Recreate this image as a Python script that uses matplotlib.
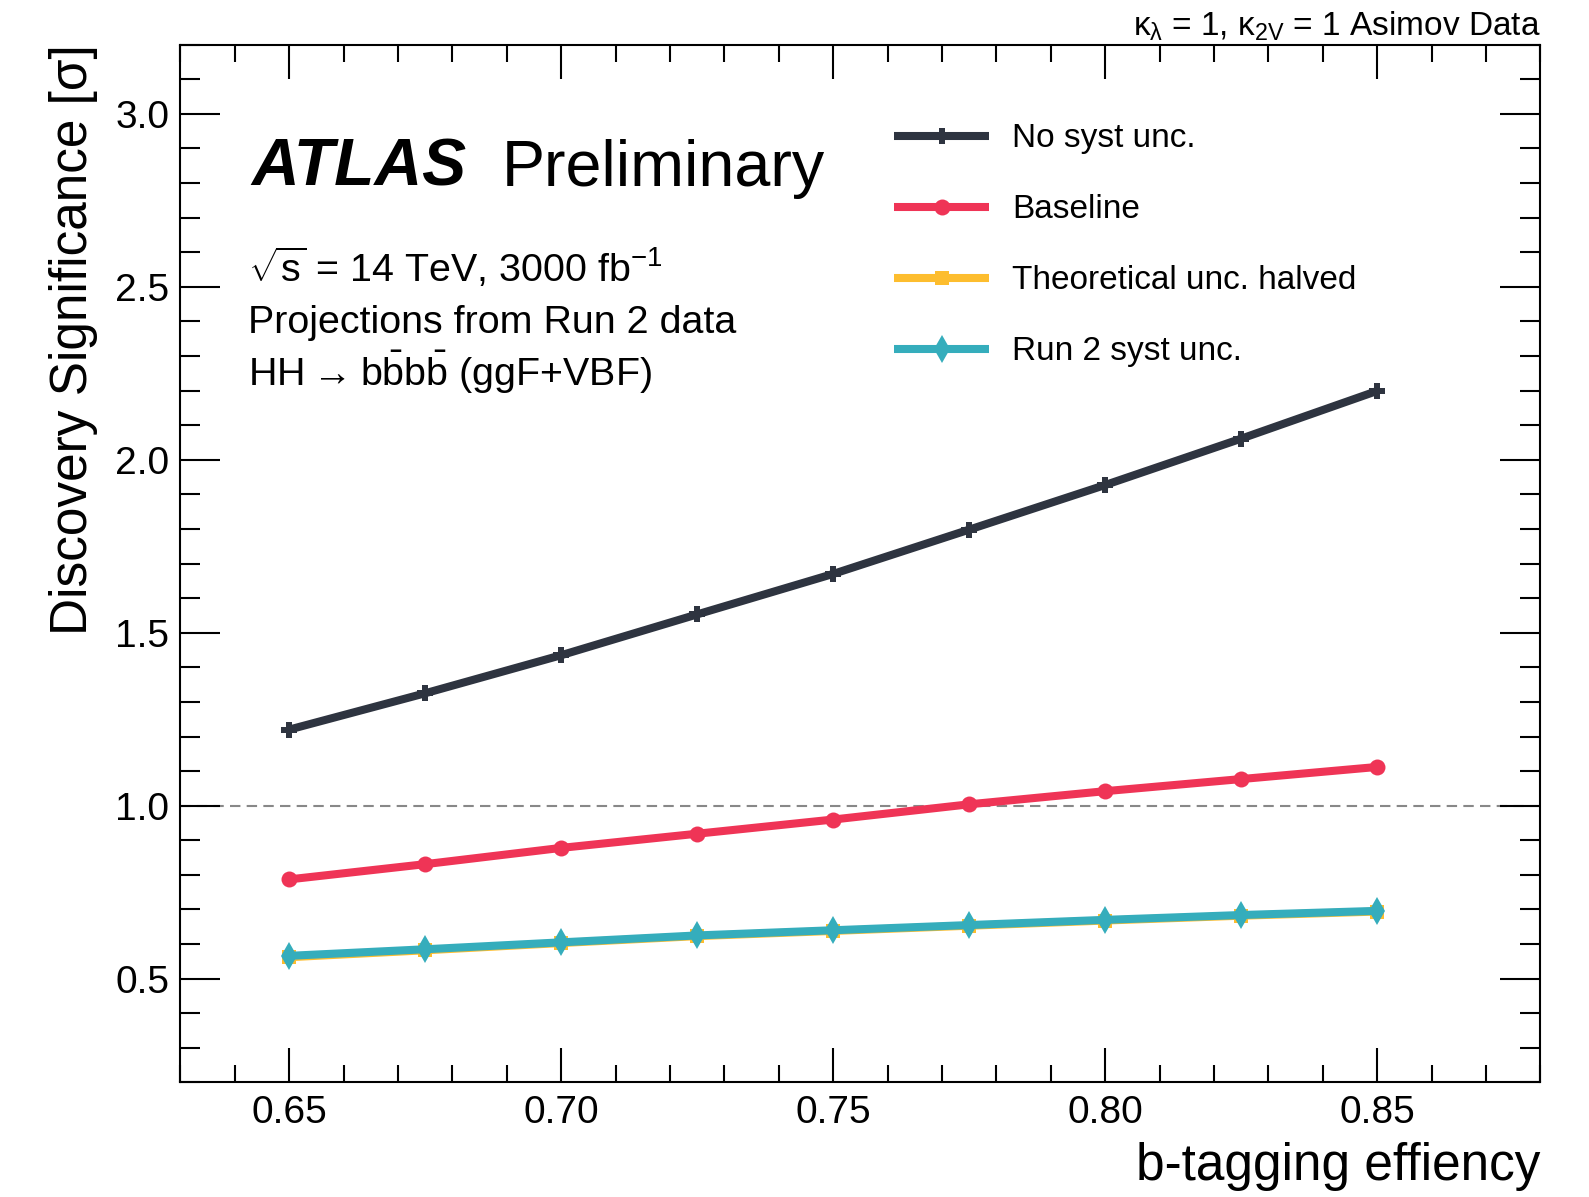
import matplotlib
matplotlib.use("Agg")
import matplotlib.pyplot as plt
from matplotlib.ticker import MultipleLocator, FormatStrFormatter

plt.rcParams['font.family'] = ['Liberation Sans', 'DejaVu Sans']
plt.rcParams['mathtext.fontset'] = 'custom'
plt.rcParams['mathtext.rm'] = 'Liberation Sans'
plt.rcParams['mathtext.it'] = 'Liberation Sans'
plt.rcParams['mathtext.bf'] = 'Liberation Sans:bold'

# ---- data ----
btag_eff = [0.65, 0.675, 0.70, 0.725, 0.75, 0.775, 0.80, 0.825, 0.85]
no_syst = [1.22, 1.325, 1.435, 1.553, 1.670, 1.798, 1.927, 2.061, 2.199]
baseline = [0.787, 0.831, 0.878, 0.919, 0.960, 1.004, 1.042, 1.077, 1.112]
theory_halved = [0.562, 0.582, 0.603, 0.623, 0.638, 0.653, 0.668, 0.682, 0.694]
run2_syst = [0.566, 0.585, 0.605, 0.625, 0.640, 0.655, 0.670, 0.684, 0.696]
series_labels = ["No syst unc.", "Baseline", "Theoretical unc. halved", "Run 2 syst unc."]

colors = ["#2e3440", "#ef3456", "#fdbd2e", "#35adbc"]
markers = ["P", "o", "s", "d"]
msizes = [12, 11.5, 10.5, 14]

fig = plt.figure(figsize=(15.89, 11.97), dpi=100)
ax = fig.add_axes([0.1135, 0.0957, 0.9694 - 0.1135, 0.9627 - 0.0957])

for y, lab, c, m, ms in zip([no_syst, baseline, theory_halved, run2_syst],
                            series_labels, colors, markers, msizes):
    ax.plot(btag_eff, y, color=c, lw=5.8, marker=m, ms=ms, mew=0,
            label=lab, solid_capstyle='butt')

ax.axhline(1.0, color='#888888', lw=1.5, ls=(0, (5, 3)), zorder=0)

ax.set_xlim(0.63, 0.88)
ax.set_ylim(0.2, 3.2)
ax.xaxis.set_major_locator(MultipleLocator(0.05))
ax.xaxis.set_minor_locator(MultipleLocator(0.01))
ax.yaxis.set_major_locator(MultipleLocator(0.5))
ax.yaxis.set_minor_locator(MultipleLocator(0.1))
ax.xaxis.set_major_formatter(FormatStrFormatter('%.2f'))
ax.yaxis.set_major_formatter(FormatStrFormatter('%.1f'))

ax.tick_params(which='both', direction='in', top=True, right=True, width=1.5,
               labelsize=28)
ax.tick_params(axis='x', which='major', length=24.5, pad=9)
ax.tick_params(axis='x', which='minor', length=12)
ax.tick_params(axis='y', which='major', length=28.8, pad=8)
ax.tick_params(axis='y', which='minor', length=14.4)
for s in ax.spines.values():
    s.set_linewidth(1.5)

ax.set_xlabel("b-tagging effiency", fontsize=37, loc='right', labelpad=8)
ax.set_ylabel("Discovery Significance [σ]", fontsize=37, loc='top', labelpad=12)

ax.text(0.052, 0.864, "ATLAS", transform=ax.transAxes, fontsize=47.5,
        fontweight='bold', fontstyle='italic', va='baseline', ha='left')
ax.text(0.236, 0.864, "Preliminary", transform=ax.transAxes, fontsize=46.5,
        va='baseline', ha='left')
ax.text(0.050, 0.7715, r"$\sqrt{\mathrm{s}}$ = 14 TeV, 3000 fb$^{-1}$",
        transform=ax.transAxes, fontsize=28.4, va='baseline', ha='left')
ax.text(0.050, 0.7217, "Projections from Run 2 data",
        transform=ax.transAxes, fontsize=28.4, va='baseline', ha='left')
ax.text(0.050, 0.6709, "HH\u2009\u2192\u2009b" + r"$\bar{\mathrm{b}}$b$\bar{\mathrm{b}}$ (ggF+VBF)",
        transform=ax.transAxes, fontsize=28.4, va='baseline', ha='left')

ax.text(1.0, 1.002, r"$\kappa_{\lambda}$ = 1, $\kappa_{2V}$ = 1 Asimov Data",
        transform=ax.transAxes, fontsize=24, va='bottom', ha='right')

leg = ax.legend(loc='upper left', bbox_to_anchor=(0.515, 0.937), frameon=False,
                fontsize=24, handlelength=2.85, handletextpad=0.7,
                labelspacing=1.2, borderaxespad=0)

fig.savefig("out.png", dpi=100)
